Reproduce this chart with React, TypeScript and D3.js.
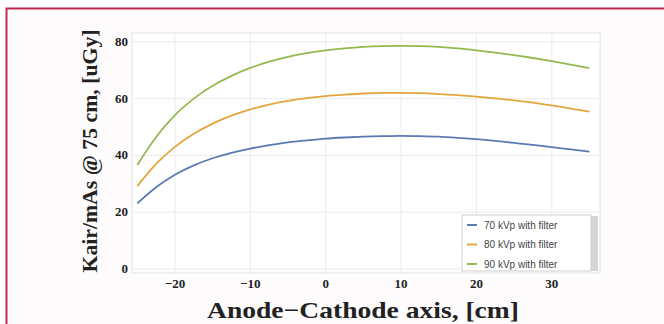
import React, { useEffect, useRef } from "react";
import * as d3 from "d3";

const positions = [-25, -22.5, -20, -17.5, -15, -12.5, -10, -7.5, -5, -2.5, 0, 2.5, 5, 7.5, 10, 12.5, 15, 17.5, 20, 22.5, 25, 27.5, 30, 32.5, 35];
const kvp70 = [23.1, 28.8, 33.2, 36.5, 39.0, 40.9, 42.4, 43.6, 44.6, 45.3, 45.9, 46.3, 46.6, 46.8, 46.9, 46.8, 46.6, 46.2, 45.7, 45.1, 44.4, 43.7, 42.9, 42.1, 41.3];
const kvp80 = [29.2, 37.0, 43.0, 47.6, 51.2, 54.0, 56.2, 57.9, 59.2, 60.2, 60.9, 61.4, 61.8, 62.0, 62.0, 61.9, 61.6, 61.2, 60.7, 60.1, 59.4, 58.6, 57.6, 56.5, 55.4];
const kvp90 = [36.6, 46.5, 54.2, 60.0, 64.5, 68.0, 70.8, 73.0, 74.7, 76.0, 77.0, 77.7, 78.2, 78.5, 78.6, 78.5, 78.2, 77.7, 77.0, 76.2, 75.3, 74.3, 73.2, 72.0, 70.7];
const seriesNames = ["70 kVp with filter", "80 kVp with filter", "90 kVp with filter"];
const xTicks = [-20, -10, 0, 10, 20, 30];
const yTicks = [0, 20, 40, 60, 80];

export default function App() {
    const width = 664;
    const height = 324;
    const margin = { top: 33, right: 64, bottom: 51, left: 132 };
    const ref = useRef(null);
    const colors = ["#5b79b3", "#e3a53e", "#93b950"];

    useEffect(() => {
        const svg = d3.select(ref.current);
        svg.selectAll("*").remove();

        const w = width - margin.left - margin.right;
        const h = height - margin.top - margin.bottom;

        // outer frame
        svg.append("rect").attr("x", 0).attr("y", 0).attr("width", width).attr("height", height).attr("fill", "#ffffff");
        svg.append("rect").attr("x", 6.5).attr("y", 8.5).attr("width", width + 20).attr("height", height + 20)
            .attr("fill", "#fdfbfc").attr("stroke", "#c2294f").attr("stroke-width", 2);

        const g = svg.append("g").attr("transform", `translate(${margin.left}, ${margin.top})`);

        const x = d3.scaleLinear().domain([-25.7, 36.4]).range([0, w]);
        const y = d3.scaleLinear().domain([-1.4, 83.1]).range([h, 0]);

        g.append("rect").attr("width", w).attr("height", h).attr("fill", "#ffffff").attr("stroke", "#e4e4e4");

        // grid
        g.selectAll(".vgrid").data(xTicks).enter().append("line")
            .attr("x1", d => x(d)).attr("x2", d => x(d)).attr("y1", 0).attr("y2", h)
            .attr("stroke", "#ececec").attr("stroke-width", 1);
        g.selectAll(".hgrid").data(yTicks).enter().append("line")
            .attr("x1", 0).attr("x2", w).attr("y1", d => y(d)).attr("y2", d => y(d))
            .attr("stroke", "#ececec").attr("stroke-width", 1);

        // tick labels
        g.selectAll(".xt").data(xTicks).enter().append("text")
            .text(d => d < 0 ? "\u2212" + Math.abs(d) : String(d))
            .attr("x", d => x(d)).attr("y", h + 15)
            .attr("text-anchor", "middle")
            .attr("font-family", "Liberation Serif").attr("font-weight", "bold")
            .attr("font-size", "13px").attr("fill", "#222");
        g.selectAll(".yt").data(yTicks).enter().append("text")
            .text(d => String(d))
            .attr("x", -4).attr("y", d => y(d) + 4)
            .attr("text-anchor", "end")
            .attr("font-family", "Liberation Serif").attr("font-weight", "bold")
            .attr("font-size", "13px").attr("fill", "#222");

        // curves
        const all = [kvp70, kvp80, kvp90];
        const line = d3.line<number>()
            .x((d, i) => x(positions[i]))
            .y(d => y(d))
            .curve(d3.curveMonotoneX);
        all.forEach((s, i) => {
            g.append("path").attr("d", line(s)).attr("fill", "none")
                .attr("stroke", colors[i]).attr("stroke-width", 1.8);
        });

        // legend
        const lx = 462 - margin.left, ly = 215 - margin.top;
        g.append("rect").attr("x", lx + 128).attr("y", ly + 1).attr("width", 8).attr("height", 55).attr("fill", "#d6d6d6");
        g.append("rect").attr("x", lx).attr("y", ly).attr("width", 129).attr("height", 56)
            .attr("fill", "#ffffff").attr("stroke", "#cfcfcf");
        seriesNames.forEach((name, i) => {
            const yy = ly + 10 + i * 19.5;
            g.append("line").attr("x1", lx + 5).attr("x2", lx + 15).attr("y1", yy).attr("y2", yy)
                .attr("stroke", colors[i]).attr("stroke-width", 2);
            g.append("text").text(name).attr("x", lx + 22).attr("y", yy + 3.5)
                .attr("font-family", "Liberation Sans").attr("font-size", "10px").attr("fill", "#444");
        });

        // axis titles
        svg.append("text").text("Anode\u2212Cathode axis, [cm]")
            .attr("x", 363).attr("y", 318).attr("text-anchor", "middle")
            .attr("font-family", "Liberation Serif").attr("font-weight", "bold")
            .attr("font-size", "23px").attr("fill", "#222")
            .attr("textLength", 312).attr("lengthAdjust", "spacingAndGlyphs");
        svg.append("text").text("Kair/mAs @ 75 cm, [uGy]")
            .attr("transform", "translate(97, 151) rotate(-90)")
            .attr("text-anchor", "middle")
            .attr("font-family", "Liberation Serif").attr("font-weight", "bold")
            .attr("font-size", "21px").attr("fill", "#222")
            .attr("textLength", 243).attr("lengthAdjust", "spacingAndGlyphs");
    }, []);

    return (
        <svg ref={ref} width={width} height={height}
            style={{ position: "absolute", left: 0, top: 0 }} />
    );
}
